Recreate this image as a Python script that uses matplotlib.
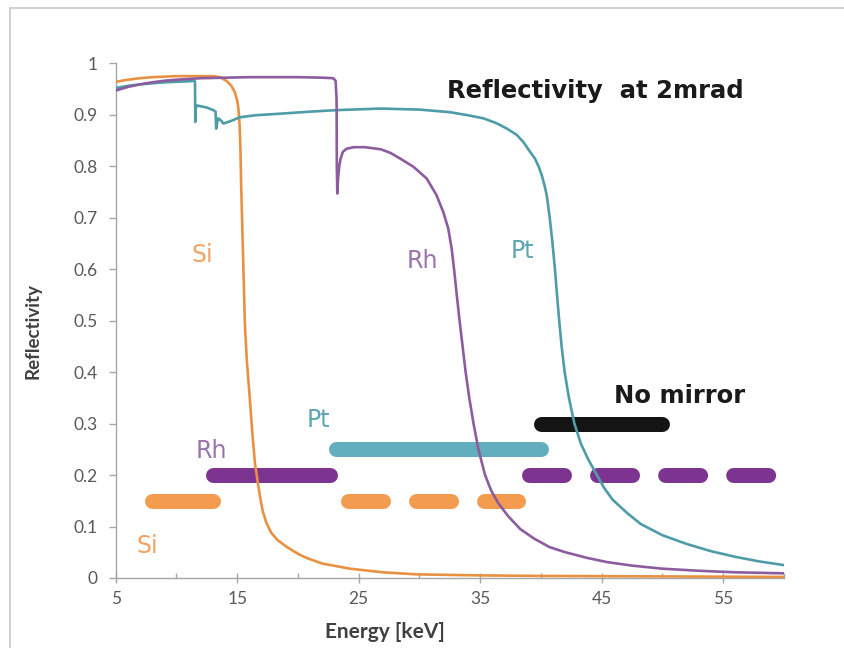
import matplotlib
matplotlib.use("Agg")
import matplotlib.pyplot as plt
from matplotlib.lines import Line2D

plt.rcParams['lines.scale_dashes'] = False

# ---------------- data ----------------
si_e = [5, 6, 7, 8, 9, 10, 11, 12, 13, 13.6, 14.1, 14.5, 14.8, 15.0, 15.1, 15.2, 15.27, 15.33,
        15.4, 15.5, 15.64, 15.8, 16.05, 16.25, 16.46, 16.7, 16.9, 17.1, 17.4, 17.8, 18.3, 19.1,
        20.0, 20.7, 22.0, 24.3, 27.0, 29.8, 35, 40, 50, 60]
si_r = [0.964, 0.968, 0.971, 0.973, 0.974, 0.975, 0.975, 0.975, 0.975, 0.973, 0.966, 0.957,
        0.944, 0.928, 0.912, 0.88, 0.83, 0.76, 0.70, 0.61, 0.49, 0.42, 0.345, 0.28, 0.223,
        0.185, 0.155, 0.13, 0.107, 0.088, 0.074, 0.060, 0.047, 0.039, 0.028, 0.018, 0.011,
        0.007, 0.005, 0.004, 0.003, 0.002]

rh_e = [5, 6, 7, 8, 9, 10, 12, 14, 16, 18, 20, 22, 22.9, 23.1, 23.18, 23.2, 23.24, 23.3, 23.4,
        23.5, 23.7, 24.0, 24.6, 25.5, 26.8, 27.6, 28.4, 29.5, 30.6, 31.4, 31.96, 32.37, 32.65,
        32.87, 33.07, 33.3, 33.55, 33.8, 34.1, 34.45, 34.85, 35.4, 35.9, 36.5, 37.3, 38.3,
        39.4, 40.7, 42.0, 43.8, 45.4, 47.5, 50, 53, 56, 60]
rh_r = [0.947, 0.954, 0.959, 0.963, 0.966, 0.968, 0.971, 0.972, 0.973, 0.973, 0.973, 0.972,
        0.971, 0.966, 0.93, 0.80, 0.747, 0.775, 0.80, 0.814, 0.828, 0.834, 0.837, 0.837, 0.833,
        0.826, 0.815, 0.799, 0.776, 0.744, 0.711, 0.679, 0.64, 0.595, 0.55, 0.50, 0.45, 0.40,
        0.35, 0.30, 0.25, 0.20, 0.17, 0.145, 0.12, 0.095, 0.077, 0.060, 0.050, 0.039, 0.031,
        0.024, 0.018, 0.014, 0.011, 0.009]

pt_e = [5, 6, 7, 8, 9, 10, 11, 11.5, 11.53, 11.55, 11.58, 11.7, 12.5, 13.03, 13.22, 13.27,
        13.35, 13.45, 13.7, 13.86, 14.0, 14.5, 15.2, 16.5, 18.5, 21, 23.2, 26.8, 28.4, 30,
        32.5, 34, 35.26, 36.3, 37.2, 38.0, 38.55, 39.1, 39.5, 39.8, 40.06, 40.3, 40.47, 40.72,
        40.95, 41.15, 41.32, 41.5, 41.7, 41.95, 42.3, 42.75, 43.3, 43.9, 44.6, 45.2, 45.9,
        47.1, 48.2, 50, 52, 54, 56, 58, 60]
pt_r = [0.952, 0.956, 0.959, 0.961, 0.963, 0.964, 0.965, 0.966, 0.962, 0.886, 0.912, 0.918,
        0.914, 0.909, 0.906, 0.873, 0.885, 0.893, 0.888, 0.883, 0.884, 0.888, 0.895, 0.899,
        0.902, 0.906, 0.909, 0.912, 0.911, 0.910, 0.905, 0.899, 0.893, 0.884, 0.873, 0.861,
        0.847, 0.828, 0.815, 0.80, 0.783, 0.762, 0.744, 0.70, 0.65, 0.60, 0.55, 0.50, 0.45,
        0.40, 0.35, 0.30, 0.26, 0.23, 0.20, 0.175, 0.152, 0.126, 0.105, 0.083, 0.066, 0.052,
        0.041, 0.032, 0.025]

# usable energy ranges (keV) and their bar level
si_solid = [8.0, 13.0]
si_dashed = [24.1, 38.1]
si_level = 0.15
rh_solid = [13.0, 22.6]
rh_dashed = [39.0, 58.9]
rh_level = 0.20
pt_solid = [23.1, 40.0]
pt_level = 0.25
nomirror = [40.0, 50.0]
nomirror_level = 0.30

x_ticks = [5, 15, 25, 35, 45, 55]
x_minor = [10, 20, 30, 40, 50, 60]
y_ticks = [0, 0.1, 0.2, 0.3, 0.4, 0.5, 0.6, 0.7, 0.8, 0.9, 1]
y_ticklabels = ['0', '0.1', '0.2', '0.3', '0.4', '0.5', '0.6', '0.7', '0.8', '0.9', '1']

# ---------------- styling ----------------
SI_LINE, RH_LINE, PT_LINE = '#E99142', '#8C5C9E', '#4E9CA8'
SI_BAR, RH_BAR, PT_BAR, NM_BAR = '#F39B4F', '#7D3490', '#63AEBE', '#141414'
SI_TXT, RH_TXT, PT_TXT = '#F2A262', '#9A74AC', '#5CA6B3'

fig = plt.figure(figsize=(8.45, 6.55), dpi=100)
ax = fig.add_axes([0.1369, 0.1176, 0.7909, 0.7858])

bar_lw = 10.8
dash_pat = (25.2, 23.8)

def bar(rng, lvl, color, dashed=False):
    kw = dict(color=color, lw=bar_lw, zorder=2)
    if dashed:
        ax.plot(rng, [lvl, lvl], dashes=dash_pat, dash_capstyle='round', **kw)
    else:
        ax.plot(rng, [lvl, lvl], solid_capstyle='round', **kw)

bar(si_solid, si_level, SI_BAR)
bar(si_dashed, si_level, SI_BAR, dashed=True)
bar(rh_solid, rh_level, RH_BAR)
bar(rh_dashed, rh_level, RH_BAR, dashed=True)
bar(pt_solid, pt_level, PT_BAR)
bar(nomirror, nomirror_level, NM_BAR)

ax.plot(si_e, si_r, color=SI_LINE, lw=1.9, zorder=4, solid_joinstyle='round')
ax.plot(pt_e, pt_r, color=PT_LINE, lw=1.9, zorder=4, solid_joinstyle='round')
ax.plot(rh_e, rh_r, color=RH_LINE, lw=1.9, zorder=4, solid_joinstyle='round')

ax.set_xlim(5, 60)
ax.set_ylim(0, 1)

for s in ['top', 'right']:
    ax.spines[s].set_visible(False)
for s in ['left', 'bottom']:
    ax.spines[s].set_color('#A6A6A6')
    ax.spines[s].set_linewidth(1.0)

tick_font = dict(family='Lato', size=12.5, color='#595959')
ax.set_xticks(x_ticks)
ax.set_xticklabels([str(v) for v in x_ticks], **tick_font)
ax.set_xticks(x_minor, minor=True)
ax.set_yticks(y_ticks)
ax.set_yticklabels(y_ticklabels, **tick_font)
ax.tick_params(axis='x', which='major', direction='inout', length=7, width=1,
               color='#A6A6A6', pad=6)
ax.tick_params(axis='x', which='minor', direction='in', length=3.5, width=1,
               color='#A6A6A6')
ax.tick_params(axis='y', which='major', direction='out', length=5, width=1,
               color='#A6A6A6', pad=8)

ax.set_xlabel('Energy [keV]', family='Lato', weight='bold', size=15, color='#404040',
              va='center')
ax.xaxis.set_label_coords(0.403, -0.105)
ax.set_ylabel('Reflectivity', family='Lato', weight='bold', size=13.5, color='#404040',
              va='center')
ax.yaxis.set_label_coords(-0.124, 0.48)

lab = dict(family='DejaVu Sans', size=17, ha='center', va='baseline', zorder=5)
ax.text(12.1, 0.614, 'Si', color=SI_TXT, **lab)
ax.text(30.2, 0.602, 'Rh', color=RH_TXT, **lab)
ax.text(38.5, 0.621, 'Pt', color=PT_TXT, **lab)
ax.text(21.65, 0.293, 'Pt', color=PT_TXT, **lab)
ax.text(12.85, 0.233, 'Rh', color=RH_TXT, **lab)
ax.text(7.6, 0.0485, 'Si', color=SI_TXT, **lab)

big = dict(family='DejaVu Sans', weight='bold', size=17.5, color='#1A1A1A',
           ha='center', va='baseline', zorder=5)
ax.text(44.5, 0.932, 'Reflectivity  at 2mrad', **big)
ax.text(51.4, 0.340, 'No mirror', **big)

# light grey outer frame (top and left edges)
W, H = 845, 655
fig.add_artist(Line2D([10 / W, 1.0], [1 - 8 / H, 1 - 8 / H], color='#C8C8C8', lw=1.2,
                      transform=fig.transFigure))
fig.add_artist(Line2D([10 / W, 10 / W], [1 - 8 / H, 1 - 647 / H], color='#C8C8C8', lw=1.2,
                      transform=fig.transFigure))

fig.savefig('out.png', dpi=100)
